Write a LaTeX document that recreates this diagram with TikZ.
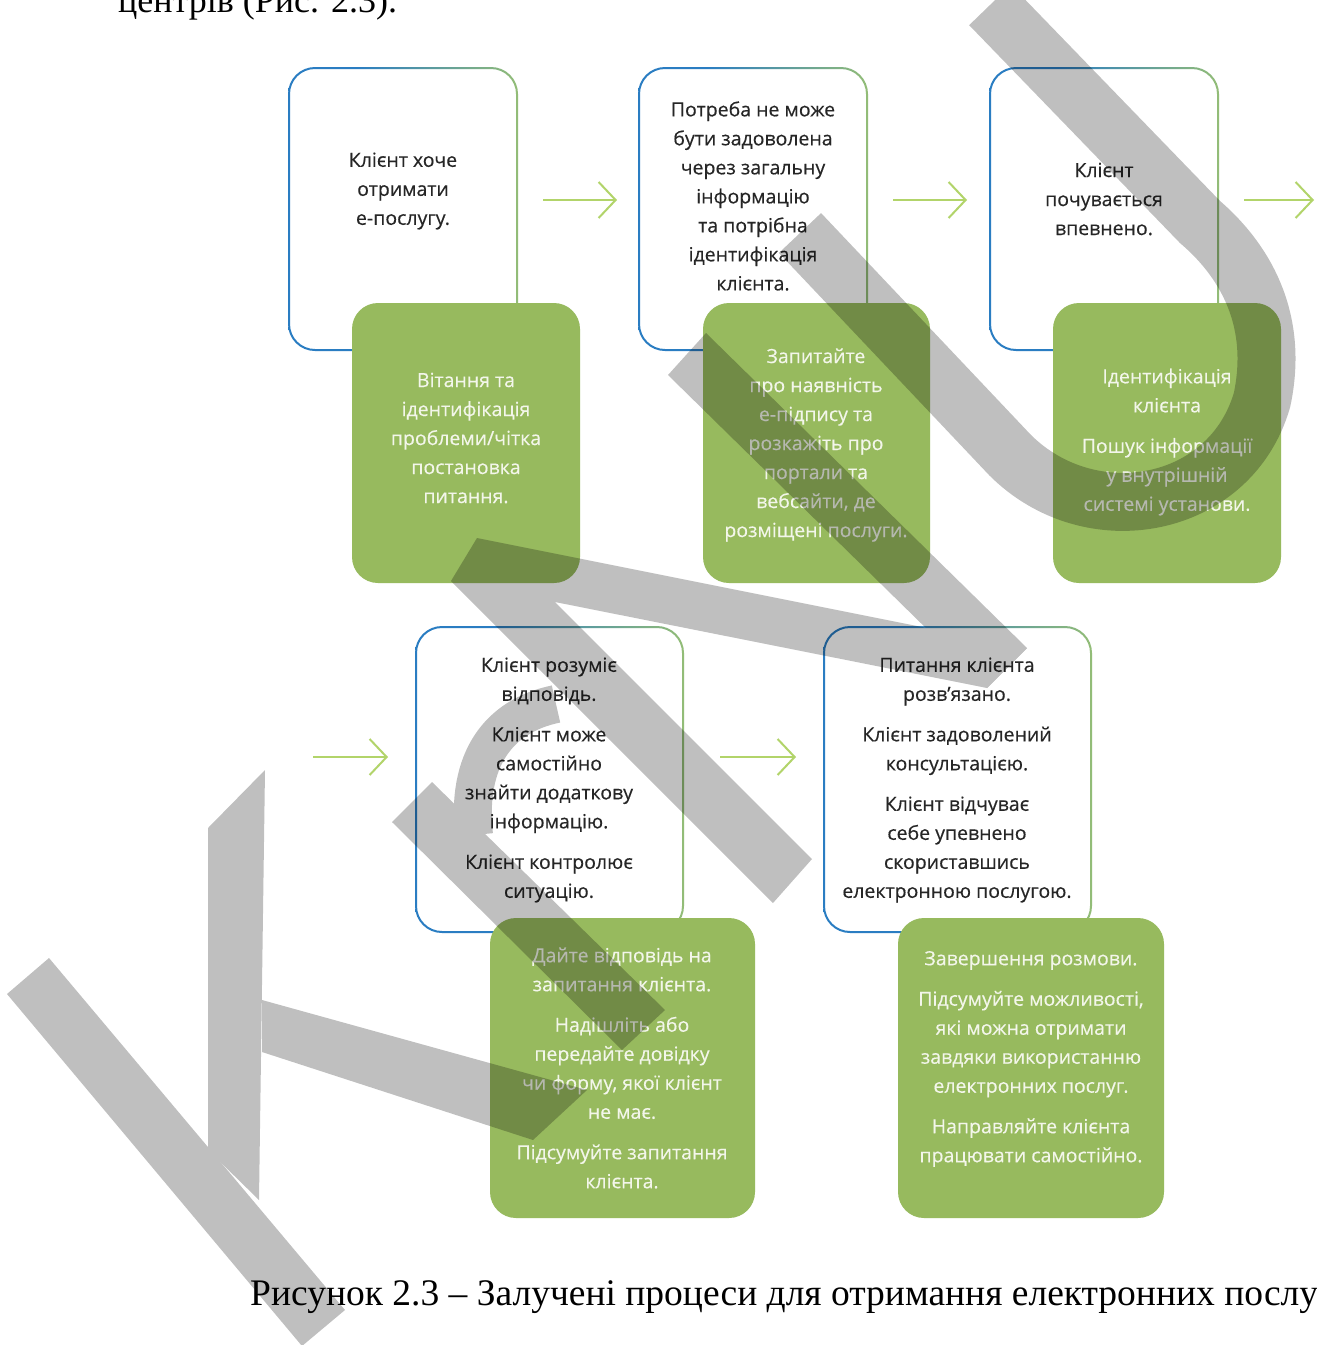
\documentclass[tikz,border=0pt]{standalone}
\usepackage{fontspec}
\setmainfont{Liberation Serif}
\newfontfamily\boxfont[FakeBold=0.35]{Open Sans}
\usetikzlibrary{arrows.meta}
\definecolor{bluel}{HTML}{2A7DC2}
\definecolor{greenl}{HTML}{A2C66C}
\definecolor{fillg}{HTML}{97BA5E}
\definecolor{arrowg}{HTML}{B2D46A}
\definecolor{txt}{HTML}{262626}
\definecolor{wtxt}{HTML}{F3F6EA}
\pgfdeclarehorizontalshading{ringshade}{100bp}{color(0bp)=(bluel); color(40bp)=(bluel); color(80bp)=(greenl); color(100bp)=(greenl)}
\newcommand\wring[4]{%
  \fill[white, rounded corners=26] (#1,#2) rectangle (#3,#4);
  \shade[shading=ringshade, even odd rule] [rounded corners=27] (#1-1,#2-1) rectangle (#3+1,#4+1) [rounded corners=25] (#1+1,#2+1) rectangle (#3-1,#4-1);}
\tikzset{
  wbox/.style={rectangle, inner sep=0, draw=none},
  wtext/.style={font=\boxfont\fontsize{19.5}{29}\selectfont, text=txt, align=center, inner sep=0},
  gtext/.style={font=\boxfont\fontsize{19.5}{29}\selectfont, text=wtxt, align=center, inner sep=0},
  gbox/.style={rectangle, fill=fillg, rounded corners=26, draw=none, inner sep=0},
  arr/.style={draw=arrowg, line width=2, -{Straight Barb[length=17,width=36]}},
  wmark/.style={fill=black}
}
\begin{document}
\begin{tikzpicture}[x=1pt,y=-1pt]
\useasboundingbox (0,0) rectangle (1317,1345);
\clip (0,0) rectangle (1317,1345);
\fill[white] (0,0) rectangle (1317,1345);

% texts outside
\node[anchor=base west, font=\fontsize{36}{36}\selectfont, inner sep=0] (top) at (118,12) {центрів (Рис. 2.3).};
\node[anchor=base west, font=\fontsize{37.5}{37.5}\selectfont, inner sep=0] (cap) at (250,1305) {Рисунок 2.3 – Залучені процеси для отримання електронних послуг};

% white boxes
\node[wbox, minimum width=228, minimum height=282] (w1) at (403,209) {};
\node[wbox, minimum width=228, minimum height=282] (w2) at (753,209) {};
\node[wbox, minimum width=228, minimum height=282] (w3) at (1104,209) {};
\node[wbox, minimum width=267, minimum height=305] (w4) at (549.5,779.5) {};
\node[wbox, minimum width=267, minimum height=305] (w5) at (957.5,779.5) {};
\wring{289}{68}{517}{350}
\wring{639}{68}{867}{350}
\wring{990}{68}{1218}{350}
\wring{416}{627}{683}{932}
\wring{824}{627}{1091}{932}

\node[wtext] (t1) at (403,191) {Клієнт хоче\\отримати\\е-послугу.};
\node[wtext] (t2) at (753,196) {Потреба не може\\бути задоволена\\через загальну\\інформацію\\та потрібна\\ідентифікація\\клієнта.};
\node[wtext] (t3) at (1104,199) {Клієнт\\почувається\\впевнено.};
\node[wtext] (t4) at (549,780) {Клієнт розуміє\\відповідь.\\[11.5pt]Клієнт може\\самостійно\\знайти додаткову\\інформацію.\\[11.5pt]Клієнт контролює\\ситуацію.};
\node[wtext] (t5) at (957,780) {Питання клієнта\\розв’язано.\\[11.5pt]Клієнт задоволений\\консультацією.\\[11.5pt]Клієнт відчуває\\себе упевнено\\скориставшись\\електронною послугою.};

% green boxes
\node[gbox, minimum width=228, minimum height=280] (g1) at (466,443) {};
\node[gbox, minimum width=227, minimum height=280] (g2) at (816.5,443) {};
\node[gbox, minimum width=228, minimum height=280] (g3) at (1167,443) {};
\node[gbox, minimum width=265, minimum height=300] (g4) at (622.5,1068) {};
\node[gbox, minimum width=266, minimum height=300] (g5) at (1031,1068) {};

\node[gtext] (gt1) at (466,438) {Вітання та\\ідентифікація\\проблеми/чітка\\постановка\\питання.};
\node[gtext] (gt2) at (816,445) {Запитайте\\про наявність\\е-підпису та\\розкажіть про\\портали та\\вебсайти, де\\розміщені послуги.};
\node[gtext] (gt3) at (1167,442) {Ідентифікація\\клієнта\\[11.5pt]Пошук інформації\\у внутрішній\\системі установи.};
\node[gtext] (gt4) at (622,1068) {Дайте відповідь на\\запитання клієнта.\\[11.5pt]Надішліть або\\передайте довідку\\чи форму, якої клієнт\\не має.\\[11.5pt]Підсумуйте запитання\\клієнта.};
\node[gtext] (gt5) at (1031,1059) {Завершення розмови.\\[11.5pt]Підсумуйте можливості,\\які можна отримати\\завдяки використанню\\електронних послуг.\\[11.5pt]Направляйте клієнта\\працювати самостійно.};

% arrows
\coordinate (a1s) at (543,200); \coordinate (a1e) at (617,200);
\coordinate (a2s) at (893,200); \coordinate (a2e) at (967,200);
\coordinate (a3s) at (1244,200); \coordinate (a3e) at (1314,200);
\coordinate (a4s) at (313,757); \coordinate (a4e) at (388,757);
\coordinate (a5s) at (720,757); \coordinate (a5e) at (796,757);
\draw[arr] (a1s) -- (a1e);
\draw[arr] (a2s) -- (a2e);
\draw[arr] (a3s) -- (a3e);
\draw[arr] (a4s) -- (a4e);
\draw[arr] (a5s) -- (a5e);

% watermark
\begin{scope}[transparency group, opacity=0.25]
\fill[wmark] (208,828) -- (265,770) -- (259,1200) -- (208,1150) -- cycle;
\fill[wmark] (262,1000) -- (587,1090) -- (533,1140) -- (262,1052) -- cycle;
\fill[wmark] (7,994) -- (49,958) -- (345,1310) -- (302,1346) -- cycle;
\fill[wmark] (392,822) -- (432,782) -- (665,1010) -- (622,1050) -- cycle;
\fill[wmark] (477,538) -- (1027,648) -- (987,688) -- (555,602) -- (812,859) -- (773,903) -- (451,581) -- cycle;
\fill[wmark] (668,375) -- (706,333) -- (1027,648) -- (987,688) -- cycle;
\draw[line width=38, black] (474,835) .. controls (466,760) and (498,716) .. (556,704);
\draw[line width=58, black] (800,233) -- (1010,455) .. controls (1090,535) and (1230,510) .. (1262,400) .. controls (1278,325) and (1250,265) .. (1200,222) -- (990,5);
\end{scope}
\end{tikzpicture}
\end{document}
